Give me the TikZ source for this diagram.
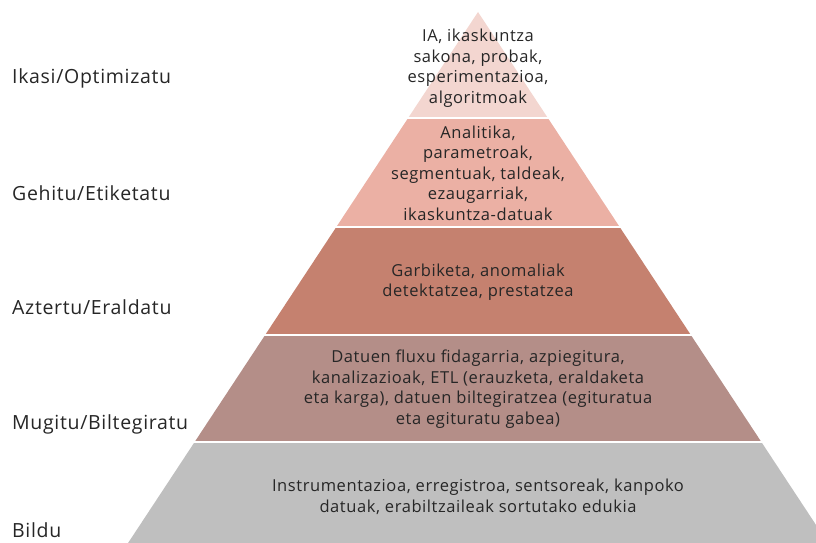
\documentclass[tikz,border=0pt]{standalone}
\usepackage{fontspec}
\setmainfont{Open Sans}[LetterSpace=3.5]
\usepackage{tikz}

\definecolor{lyrA}{RGB}{243,214,208}
\definecolor{lyrB}{RGB}{235,176,164}
\definecolor{lyrC}{RGB}{197,129,111}
\definecolor{lyrD}{RGB}{180,142,136}
\definecolor{lyrE}{RGB}{191,191,191}
\definecolor{ink}{RGB}{38,38,38}

\tikzset{
    lyrtext/.style={align=center, text=ink, font=\fontsize{16.5}{20.5}\selectfont, inner sep=0pt},
    sidetext/.style={anchor=west, text=ink, font=\fontsize{19.5}{22}\selectfont, inner sep=0pt}
}

\begin{document}
\begin{tikzpicture}[x=1pt, y=-1pt]
    \useasboundingbox (0, 0) rectangle (816, 543);
    \clip (0, 0) rectangle (816, 543);

    % pyramid layers
    \foreach \ya/\yb/\col in {12/118/lyrA, 118/227/lyrB, 227/335/lyrC, 335/442/lyrD, 442/560/lyrE} {
        \fill[\col] ({478-0.659*(\ya-12)}, \ya) -- ({478+0.659*(\ya-12)}, \ya)
            -- ({478+0.659*(\yb-12)}, \yb) -- ({478-0.659*(\yb-12)}, \yb) -- cycle;
    }
    \foreach \y in {118, 227, 335, 442} {
        \draw[white, line width=2.5pt] (100, \y) -- (816, \y);
    }

    % texts in the layers
    \node[lyrtext] (learn) at (478, 68) {IA, ikaskuntza\\sakona, probak,\\esperimentazioa,\\algoritmoak};
    \node[lyrtext] (label) at (478, 173) {Analitika,\\parametroak,\\segmentuak, taldeak,\\ezaugarriak,\\ikaskuntza-datuak};
    \node[lyrtext] (explore) at (478, 282) {Garbiketa, anomaliak\\detektatzea, prestatzea};
    \node[lyrtext] (move) at (478, 389) {Datuen fluxu fidagarria, azpiegitura,\\kanalizazioak, ETL (erauzketa, eraldaketa\\eta karga), datuen biltegiratzea (egituratua\\eta egituratu gabea)};
    \node[lyrtext] (collect) at (478, 497) {Instrumentazioa, erregistroa, sentsoreak, kanpoko\\datuak, erabiltzaileak sortutako edukia};

    % names on the left
    \node[sidetext] (learnname) at (12, 78) {Ikasi/Optimizatu};
    \node[sidetext] (labelname) at (12, 193) {Gehitu/Etiketatu};
    \node[sidetext] (explorename) at (12, 307) {Aztertu/Eraldatu};
    \node[sidetext] (movename) at (12, 424) {Mugitu/Biltegiratu};
    \node[sidetext] (collectname) at (12, 530) {Bildu};

\end{tikzpicture}
\end{document}
